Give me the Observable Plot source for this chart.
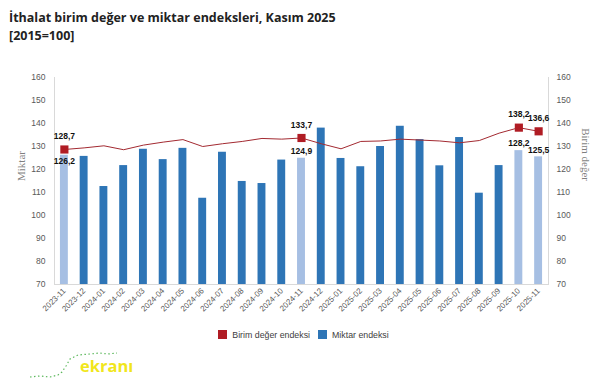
<!DOCTYPE html>
<html><head><meta charset="utf-8">
<script src="https://cdn.jsdelivr.net/npm/d3@7"></script>
<script src="https://cdn.jsdelivr.net/npm/@observablehq/plot@0.6"></script>
<style>
body{margin:0;background:#fff;width:607px;height:379px;overflow:hidden;position:relative;font-family:"Open Sans",sans-serif;}
#title{position:absolute;left:9px;top:9px;font-weight:700;font-size:12.5px;line-height:18px;color:#222;}
#chart{position:absolute;left:0;top:56px;}
#legend{position:absolute;left:0;width:607px;top:330px;text-align:center;font-family:"Liberation Sans",Arial,sans-serif;font-size:8.8px;color:#404040;}
#legend span.sw{display:inline-block;width:9px;height:9px;vertical-align:-1px;margin-right:5px;}
#legend span.it{margin:0 4px;}
#logo{position:absolute;left:0;top:340px;}
</style></head><body>
<div id="title">İthalat birim değer ve miktar endeksleri, Kasım 2025<br>[2015=100]</div>
<div id="chart"></div>
<div id="legend"><span class="it"><span class="sw" style="background:#b01c24"></span>Birim değer endeksi</span><span class="it"><span class="sw" style="background:#2e75b6"></span>Miktar endeksi</span></div>
<div id="logo"><svg width="140" height="39"><polyline points="30,37 40,36 50,37 58,35 62,32 66,26 70,19 78,15 90,14 100,13 108,14 117,13" fill="none" stroke="#5cb85c" stroke-width="1.2" stroke-dasharray="1.5,2.5"/><text x="80" y="32" font-family="Open Sans,sans-serif" font-weight="700" font-size="16.5" fill="#f1e61c">ekranı</text></svg></div>
<script>
const months = ["2023-11","2023-12","2024-01","2024-02","2024-03","2024-04","2024-05","2024-06","2024-07","2024-08","2024-09","2024-10","2024-11","2024-12","2025-01","2025-02","2025-03","2025-04","2025-05","2025-06","2025-07","2025-08","2025-09","2025-10","2025-11"];
const miktar = [126.2,125.7,112.6,121.7,128.8,124.3,129.2,107.5,127.5,114.8,113.9,124.1,124.9,138.0,124.8,121.2,130.0,138.8,133.0,121.6,133.9,109.7,121.7,128.2,125.5];
const birim = [128.7,129.4,130.3,128.6,130.6,131.9,133.0,130.0,131.2,132.2,133.5,133.2,133.7,131.2,129.0,132.2,132.4,133.2,132.8,132.4,131.6,132.6,135.8,138.2,136.6];
const highlighted = ["2023-11","2024-11","2025-10","2025-11"];
const yTicks = [70,80,90,100,110,120,130,140,150,160];

const data = months.map((m,i)=>({month:m, miktar:miktar[i], birim:birim[i], hl:highlighted.includes(m)}));
const hl = data.filter(d=>d.hl);
const fmt = v => v.toFixed(1).replace(".", ",");
const grid = "#d9d9d9";
const tickColor = "#595959";

const chart = Plot.plot({
  width: 607, height: 273,
  marginLeft: 54, marginRight: 59, marginTop: 21, marginBottom: 45,
  style: {fontFamily: "'Liberation Sans', Arial, sans-serif", background: "transparent"},
  x: {type: "band", domain: months, paddingInner: 0.6, paddingOuter: 0.3, round: false},
  y: {domain: [70,160]},
  marks: [
    Plot.barY(data, {x:"month", y1:70, y2:"miktar", fill: d => d.hl ? "#a6bfe3" : "#2e75b6"}),
    Plot.frame({anchor:"left", stroke: grid}),
    Plot.frame({anchor:"right", stroke: grid}),
    Plot.frame({anchor:"bottom", stroke: grid}),
    Plot.axisY({anchor:"left", ticks: yTicks, tickSize:0, tickPadding:9, label:null, fontSize:8.5, color:tickColor}),
    Plot.axisY({anchor:"right", ticks: yTicks, tickSize:0, tickPadding:8, label:null, fontSize:8.5, color:tickColor}),
    Plot.axisX({tickRotate:-45, tickSize:0, tickPadding:5, label:null, fontSize:8, color:tickColor}),
    Plot.lineY(data, {x:"month", y:"birim", stroke:"#a32a31", strokeWidth:1}),
    Plot.dot(hl, {x:"month", y:"birim", symbol:"square", r:4.6, fill:"#b01c24", stroke:"none"}),
    Plot.text(hl, {x:"month", y:"birim", text: d=>fmt(d.birim), dy:-13, fontWeight:"bold", fontSize:8.5, fill:"#111"}),
    Plot.text(hl.filter(d=>d.month!=="2023-11"), {x:"month", y:"miktar", text: d=>fmt(d.miktar), dy:-7, fontWeight:"bold", fontSize:8.5, fill:"#111"}),
    Plot.text(hl.filter(d=>d.month==="2023-11"), {x:"month", y:"birim", text: d=>fmt(d.miktar), dy:12, fontWeight:"bold", fontSize:8.5, fill:"#111"}),
    Plot.text(["Miktar"], {frameAnchor:"left", dx:-33, rotate:-90, fontFamily:"'Liberation Serif', serif", fontSize:11, fill:"#7f7f7f", text:d=>d}),
    Plot.text(["Birim değer"], {frameAnchor:"right", dx:37, rotate:90, fontFamily:"'Liberation Serif', serif", fontSize:11, fill:"#7f7f7f", text:d=>d})
  ]
});
document.getElementById("chart").appendChild(chart);
</script>
</body></html>
